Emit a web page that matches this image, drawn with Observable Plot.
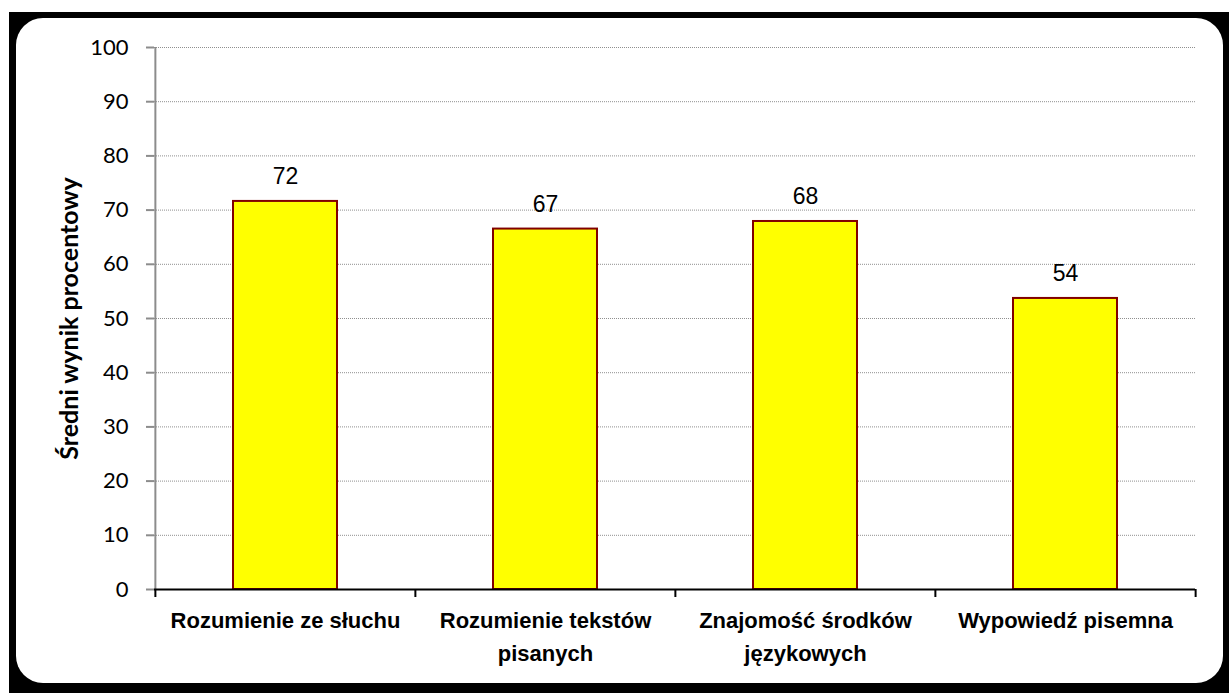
<!DOCTYPE html>
<html>
<head>
<meta charset="utf-8">
<script src="https://cdn.jsdelivr.net/npm/d3@7"></script>
<script src="https://cdn.jsdelivr.net/npm/@observablehq/plot@0.6"></script>
<style>
  body { margin: 0; background: #fff; }
  #outer { position: absolute; left: 9px; top: 12px; width: 1220px; height: 681px; background: #000; }
  #inner { position: absolute; left: 16px; top: 18px; width: 1207px; height: 665px; background: #fff; border-radius: 27px; }
  #chart { position: absolute; left: 0; top: 0; }
</style>
</head>
<body>
<div id="outer"></div>
<div id="inner"></div>
<div id="chart"></div>
<script>
const categories = [
  "Rozumienie ze słuchu",
  "Rozumienie tekstów\npisanych",
  "Znajomość środków\njęzykowych",
  "Wypowiedź pisemna"
];
const values = [71.6, 66.5, 67.9, 53.7];
const valueLabels = ["72", "67", "68", "54"];
const yTicks = [0, 10, 20, 30, 40, 50, 60, 70, 80, 90, 100];
const yTitle = "Średni wynik procentowy";

const data = categories.map((c, i) => ({cat: c, value: values[i], label: valueLabels[i]}));

const W = 1229, H = 693;
const mL = 154, mR = 34, mT = 47, mB = 104;
const plotW = W - mL - mR, plotH = H - mT - mB;
const step = plotW / categories.length;

const chart = Plot.plot({
  width: W,
  height: H,
  marginLeft: mL,
  marginRight: mR,
  marginTop: mT,
  marginBottom: mB,
  style: {background: "transparent", overflow: "visible"},
  x: {domain: categories, paddingInner: 0.6, paddingOuter: 0.3, axis: null},
  y: {domain: [0, 100], axis: null},
  marks: [
    Plot.ruleY(yTicks.filter(t => t > 0), {stroke: "#8f8f8f", strokeWidth: 1, strokeDasharray: "1,1"}),
    Plot.barY(data, {x: "cat", y: "value", fill: "#ffff00", stroke: "#800000", strokeWidth: 2}),
    Plot.text(data, {x: "cat", y: "value", text: "label", lineAnchor: "bottom", dy: -17,
      fontSize: 23, fontFamily: "'Liberation Sans', sans-serif", fill: "#000"}),
    // y axis line
    Plot.ruleX([categories[0]], {dx: -step / 2, stroke: "#8c8c8c", strokeWidth: 2}),
    Plot.axisY({ticks: yTicks, tickSize: 8, tickPadding: 18, stroke: "#8c8c8c", strokeWidth: 2,
      fill: "#000", fontSize: 22, fontFamily: "Lato", label: null}),
    // x axis line
    Plot.ruleY([0], {stroke: "#000", strokeWidth: 2}),
    // category boundary ticks
    Plot.ruleX(categories, {dx: -step / 2, insetTop: plotH, insetBottom: -8, stroke: "#000", strokeWidth: 2}),
    Plot.ruleX([categories[categories.length - 1]], {dx: step / 2, insetTop: plotH, insetBottom: -8, stroke: "#000", strokeWidth: 2}),
    // x labels
    Plot.text(categories, {x: d => d, text: d => d, frameAnchor: "bottom", lineAnchor: "top", dy: 15,
      lineHeight: 1.5, fontSize: 22, fontWeight: "bold", fontFamily: "Liberation Sans", fill: "#000"}),
    // y title
    Plot.text([yTitle], {text: d => d, frameAnchor: "left", textAnchor: "middle", rotate: -90, dx: -77,
      lineAnchor: "bottom", fontSize: 25, fontWeight: "bold", fontFamily: "Lato", fill: "#000"})
  ]
});
document.getElementById("chart").appendChild(chart);
</script>
</body>
</html>
